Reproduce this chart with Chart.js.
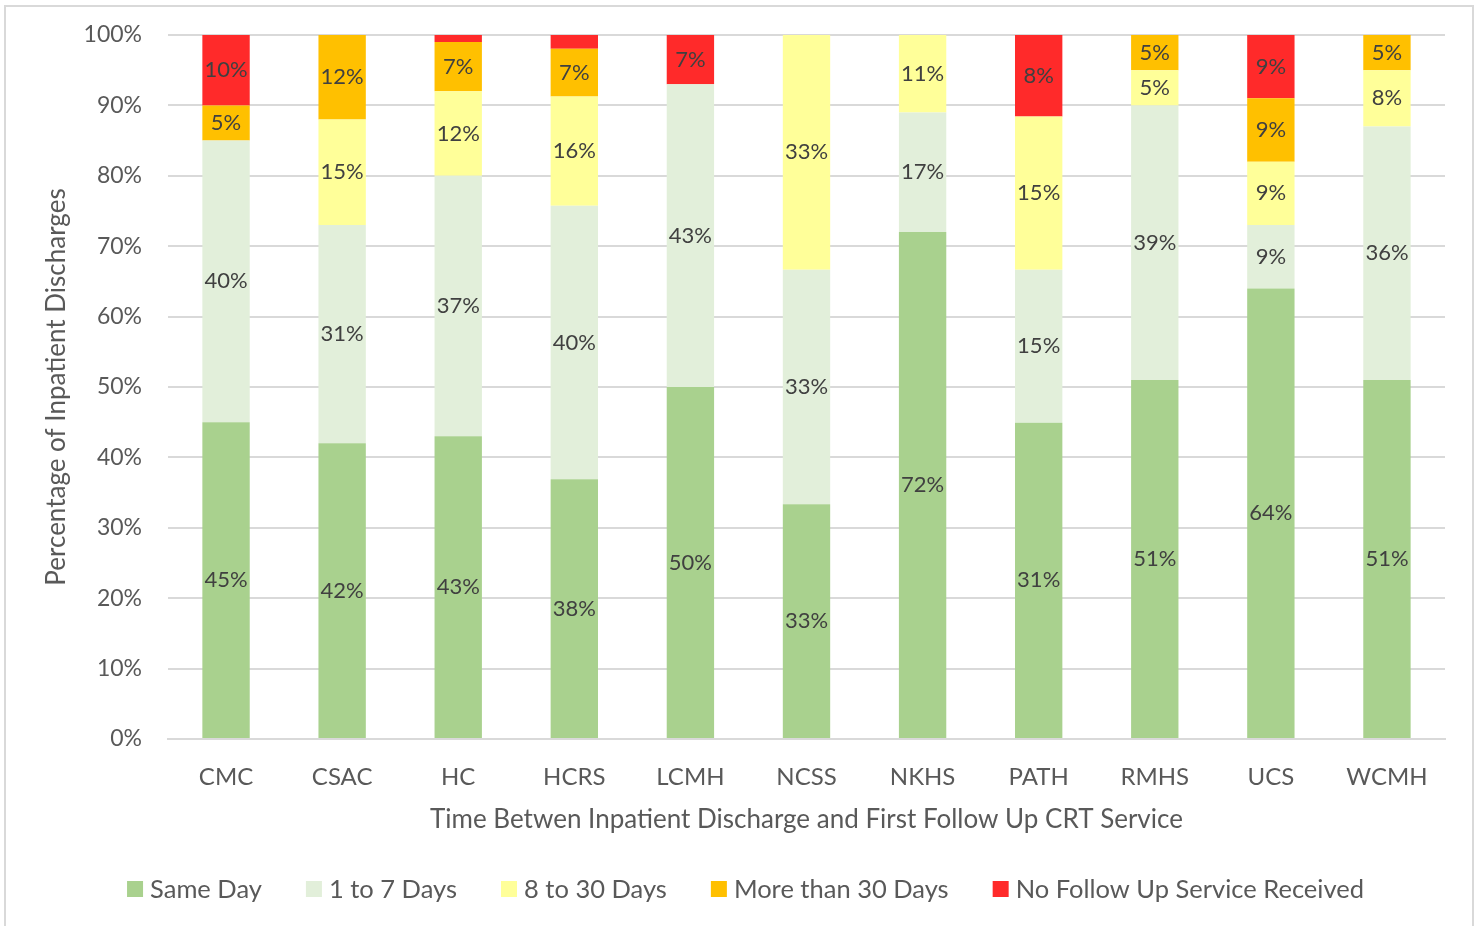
<!DOCTYPE html>
<html>
<head>
<meta charset="utf-8">
<script src="https://cdn.jsdelivr.net/npm/chart.js@4/dist/chart.umd.min.js"></script>
<style>
  html, body { margin: 0; padding: 0; background: #ffffff; overflow: hidden; }
  #frame { position: absolute; left: 4px; top: 5px; width: 1466px; height: 940px; border: 2px solid #d9d9d9; }
  #wrap { position: absolute; left: 0; top: 0; width: 1478px; height: 926px; }
</style>
</head>
<body>
<div id="frame"></div>
<div id="wrap"><canvas id="c" width="1478" height="926"></canvas></div>
<script>
const categories = ['CMC', 'CSAC', 'HC', 'HCRS', 'LCMH', 'NCSS', 'NKHS', 'PATH', 'RMHS', 'UCS', 'WCMH'];
const seriesNames = ['Same Day', '1 to 7 Days', '8 to 30 Days', 'More than 30 Days', 'No Follow Up Service Received'];
const sameDay    = [45, 42, 43, 38, 50, 33, 72, 31, 51, 64, 51];
const oneTo7     = [40, 31, 37, 40, 43, 33, 17, 15, 39,  9, 36];
const eightTo30  = [ 0, 15, 12, 16,  0, 33, 11, 15,  5,  9,  8];
const moreThan30 = [ 5, 12,  7,  7,  0,  0,  0,  0,  5,  9,  5];
const noFollow   = [10,  0,  1,  2,  7,  0,  0,  8,  0,  9,  0];
const yTicks = [0, 10, 20, 30, 40, 50, 60, 70, 80, 90, 100];
const colors = ['#A9D18E', '#E2EFDA', '#FFFF99', '#FFC000', '#FF2A2A'];

const rawSeries = [sameDay, oneTo7, eightTo30, moreThan30, noFollow];
const totals = categories.map((_, i) => rawSeries.reduce((s, arr) => s + arr[i], 0));

const datasets = rawSeries.map((arr, k) => ({
  label: seriesNames[k],
  data: arr.map((v, i) => v / totals[i] * 100),
  raw: arr,
  backgroundColor: colors[k],
  borderWidth: 0,
  barPercentage: 0.408,
  categoryPercentage: 1.0
}));

Chart.defaults.font.family = 'Lato, "Open Sans", sans-serif';
Chart.defaults.color = '#595959';

const labelPlugin = {
  id: 'segLabels',
  afterDatasetsDraw(chart) {
    const ctx = chart.ctx;
    ctx.save();
    ctx.font = '22px Lato, "Open Sans", sans-serif';
    ctx.fillStyle = '#404040';
    ctx.textAlign = 'center';
    ctx.textBaseline = 'middle';
    chart.data.datasets.forEach((ds, k) => {
      const meta = chart.getDatasetMeta(k);
      meta.data.forEach((el, i) => {
        const v = ds.raw[i];
        if (v < 3) return;
        const p = el.getProps(['x', 'y', 'base'], true);
        ctx.fillText(v + '%', p.x, (p.y + p.base) / 2);
      });
    });
    ctx.restore();
  }
};

const legendPlugin = {
  id: 'bottomLegend',
  afterDraw(chart) {
    const ctx = chart.ctx;
    ctx.save();
    const fontSize = 25.5;
    ctx.font = fontSize + 'px Lato, "Open Sans", sans-serif';
    const box = 16, gapText = 7, gapItem = 44;
    const items = chart.data.datasets.map(ds => ({ text: ds.label, color: ds.backgroundColor, w: ctx.measureText(ds.label).width }));
    const total = items.reduce((s, it) => s + box + gapText + it.w, 0) + gapItem * (items.length - 1);
    let x = 745.5 - total / 2;
    const cy = 890;
    ctx.textBaseline = 'middle';
    ctx.textAlign = 'left';
    items.forEach(it => {
      ctx.fillStyle = it.color;
      ctx.fillRect(x, cy - box / 2 - 1, box, box);
      ctx.fillStyle = '#595959';
      ctx.fillText(it.text, x + box + gapText, cy);
      x += box + gapText + it.w + gapItem;
    });
    ctx.restore();
  }
};

new Chart(document.getElementById('c'), {
  type: 'bar',
  data: { labels: categories, datasets },
  options: {
    responsive: false,
    animation: false,
    layout: { padding: { left: 0, right: 33, top: 35, bottom: 57 } },
    plugins: {
      legend: { display: false },
      tooltip: { enabled: false }
    },
    scales: {
      x: {
        stacked: true,
        grid: { display: false, drawTicks: false },
        border: { display: true, color: '#D9D9D9', width: 2 },
        ticks: { padding: 24, color: '#595959', font: { size: 24 } },
        title: {
          display: true,
          text: 'Time Betwen Inpatient Discharge and First Follow Up CRT Service',
          color: '#595959',
          font: { size: 26 },
          padding: { top: 0, bottom: 34 }
        },
        afterFit(scale) { scale.height = 130; scale.paddingLeft = 0; scale.paddingRight = 0; }
      },
      y: {
        stacked: true,
        min: 0,
        max: 100,
        afterBuildTicks(scale) { scale.ticks = yTicks.map(v => ({ value: v })); },
        grid: { color: '#D9D9D9', lineWidth: 2, drawTicks: false },
        border: { display: false },
        ticks: { padding: 26, color: '#595959', font: { size: 23 }, callback: v => v + '%' },
        title: {
          display: true,
          text: 'Percentage of Inpatient Discharges',
          color: '#595959',
          font: { size: 26 },
          padding: { top: 41, bottom: 0 }
        },
        afterFit(scale) { scale.width = 168; scale.paddingTop = 0; scale.paddingBottom = 0; }
      }
    }
  },
  plugins: [labelPlugin, legendPlugin]
});
</script>
</body>
</html>
